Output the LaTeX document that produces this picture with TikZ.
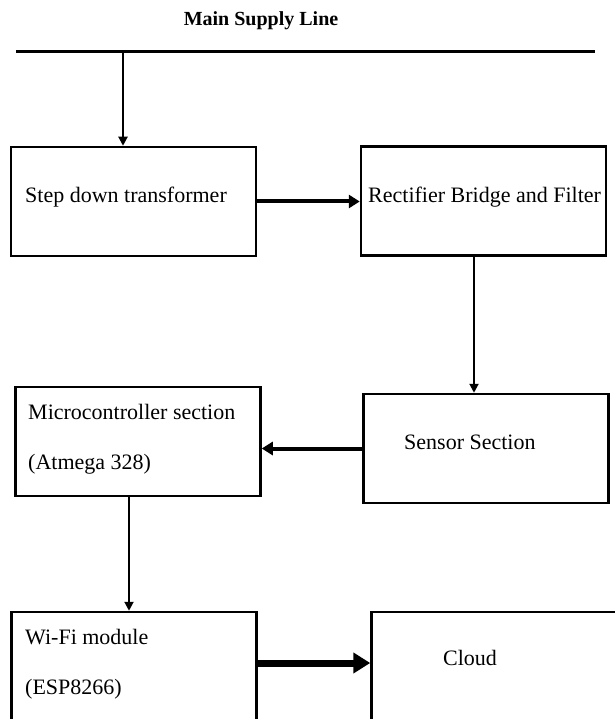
\documentclass[tikz,border=0pt]{standalone}
\usepackage{fontspec}
\setmainfont{Liberation Serif}
\usetikzlibrary{positioning}
\usetikzlibrary{arrows.meta}
\tikzstyle{block}=[rectangle,draw=black,line width=2.5pt,minimum width=245pt,minimum height=109pt,inner sep=0pt]
\tikzstyle{blocktext}=[font=\fontsize{22}{50}\selectfont,align=left,anchor=west,inner sep=0pt]
\tikzstyle{heading}=[font=\fontsize{20}{24}\selectfont\bfseries]
\tikzstyle{supply}=[draw,line width=3pt]
\tikzstyle{thinedge}=[draw,line width=2pt,-{Triangle[length=9pt,width=9pt]}]
\tikzstyle{edge}=[draw,line width=4pt,-{Triangle[length=11pt,width=13pt]}]
\tikzstyle{heavyedge}=[draw,line width=7pt,-{Triangle[length=17pt,width=20pt]}]

\begin{document}
\begin{tikzpicture}[x=1pt,y=-1pt]
    \useasboundingbox (0,0) rectangle (614,719);

    \node[heading] (title) at (261,21) {Main Supply Line};
    \coordinate (lineL) at (16,52);
    \coordinate (lineR) at (595,52);
    \coordinate (tap) at (123,52);
    \path[supply] (lineL) -- (lineR);

    \foreach \pos/\name in {(133.5,201.5)/down, (483.5,201)/rect, (486,448.5)/sens, (138,441.5)/mcu, (134,666.5)/wifi, (494,666.5)/cloud}
        \node[block] (\name) at \pos {};

    \foreach \pos/\name/\label in {{(25,197)/downtext/Step down transformer}, {(368,197)/recttext/Rectifier Bridge and Filter}, {(404,442)/senstext/Sensor Section}, {(28,439)/mcutext/{Microcontroller section\\(Atmega 328)}}, {(25,664)/wifitext/{Wi-Fi module\\(ESP8266)}}, {(443,658)/cloudtext/Cloud}}
        \node[blocktext] (\name) at \pos {\label};

    \path[thinedge] (tap) -- (tap |- down.north);
    \path[edge] (down.east) -- (down.east -| rect.west);
    \path[thinedge] ([xshift=-9.5pt]rect.south) -- ([xshift=-9.5pt]rect.south |- sens.north);
    \path[edge] (sens.west) -- (sens.west -| mcu.east);
    \path[thinedge] ([xshift=-9pt]mcu.south) -- ([xshift=-9pt]mcu.south |- wifi.north);
    \path[heavyedge] ([yshift=3.5pt]wifi.east) -- ([yshift=3.5pt]wifi.east -| cloud.west);
\end{tikzpicture}
\end{document}
